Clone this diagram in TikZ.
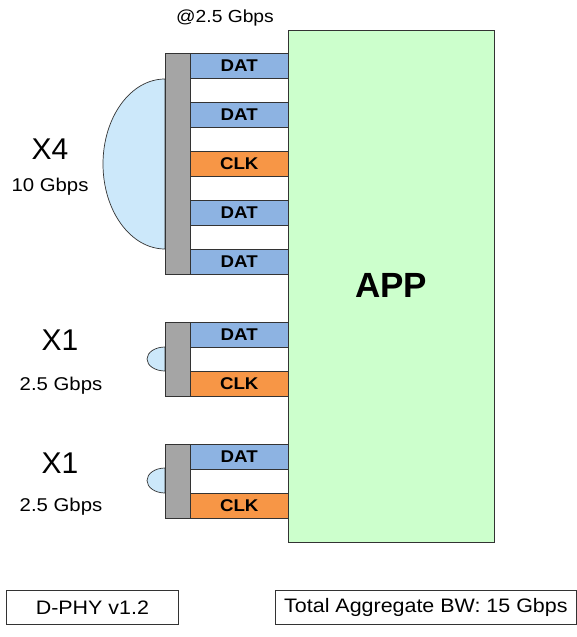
\documentclass[tikz,border=0pt]{standalone}
\usepackage{fontspec}
\setmainfont{Liberation Sans}
\newfontfamily\widefont[FakeStretch=1.1]{Liberation Sans}
\definecolor{datblue}{HTML}{8DB3E2}
\definecolor{clkorange}{HTML}{F79646}
\definecolor{bargray}{HTML}{A5A5A5}
\definecolor{bubblefill}{HTML}{CCE8FA}
\definecolor{appgreen}{HTML}{CCFFCC}
\definecolor{edgecol}{HTML}{333333}
\begin{document}
\begin{tikzpicture}[x=1pt,y=-1pt,
  lanebox/.style={draw=edgecol, line width=1pt, minimum width=98.5pt, minimum height=25pt, inner sep=0pt, anchor=north west, font=\widefont\fontsize{17}{17}\selectfont\bfseries},
  datlane/.style={lanebox, fill=datblue},
  clklane/.style={lanebox, fill=clkorange},
  graybar/.style={draw=edgecol, fill=bargray, line width=1pt, minimum width=24.5pt, inner sep=0pt, anchor=north west},
  bubbleshape/.style={draw=edgecol, fill=bubblefill, line width=0.7pt},
  biglabel/.style={anchor=base, inner sep=0pt, font=\fontsize{30}{30}\selectfont},
  ratelabel/.style={anchor=base, inner sep=0pt, font=\widefont\fontsize{18.5}{18.5}\selectfont},
  footbox/.style={draw=edgecol, line width=0.8pt, minimum height=34pt, inner sep=0pt, anchor=north west, font=\widefont\fontsize{19.5}{19.5}\selectfont}]
\useasboundingbox (0,0) rectangle (577,637);

% application block
\node[draw=edgecol, fill=appgreen, line width=1.3pt, minimum width=206pt, minimum height=512pt, inner sep=0pt, anchor=north west] (app) at (288,30) {};
\node[anchor=base, inner sep=0pt, font=\fontsize{35}{35}\selectfont\bfseries] (applabel) at (391,297) {APP};

% rate label
\node[anchor=base, inner sep=0pt, font=\widefont\fontsize{17.5}{17.5}\selectfont] (rate) at (225,22) {@2.5 Gbps};

% bubbles
\draw[bubbleshape] (165,249) arc[start angle=90, end angle=270, x radius=62, y radius=85] -- cycle;
\draw[bubbleshape] (165,371) arc[start angle=90, end angle=270, x radius=18, y radius=12] -- cycle;
\draw[bubbleshape] (165,493) arc[start angle=90, end angle=270, x radius=18, y radius=12.5] -- cycle;

% group 1 (x4)
\node[graybar, minimum height=221pt] (bar1) at (165,53) {};
\node[datlane] (g1l1) at (189.5,53) {DAT};
\node[datlane] (g1l2) at (189.5,102) {DAT};
\node[clklane] (g1l3) at (189.5,151) {CLK};
\node[datlane] (g1l4) at (189.5,200) {DAT};
\node[datlane] (g1l5) at (189.5,249) {DAT};

% group 2 (x1)
\node[graybar, minimum height=74pt] (bar2) at (165,322) {};
\node[datlane] (g2l1) at (189.5,322) {DAT};
\node[clklane] (g2l2) at (189.5,371) {CLK};

% group 3 (x1)
\node[graybar, minimum height=74pt] (bar3) at (165,444) {};
\node[datlane] (g3l1) at (189.5,444) {DAT};
\node[clklane] (g3l2) at (189.5,493) {CLK};

% side labels
\node[biglabel] (x4) at (50,159) {X4};
\node[ratelabel] (r4) at (50,191) {10 Gbps};
\node[biglabel] (x1a) at (60,350) {X1};
\node[ratelabel] (r1a) at (61,390) {2.5 Gbps};
\node[biglabel] (x1b) at (60,473) {X1};
\node[ratelabel] (r1b) at (61,511) {2.5 Gbps};

% footer boxes
\node[footbox, minimum width=172pt] (dphy) at (6,590) {D-PHY v1.2};
\node[footbox, minimum width=301pt] (total) at (275,590) {Total Aggregate BW: 15 Gbps};
\end{tikzpicture}
\end{document}
